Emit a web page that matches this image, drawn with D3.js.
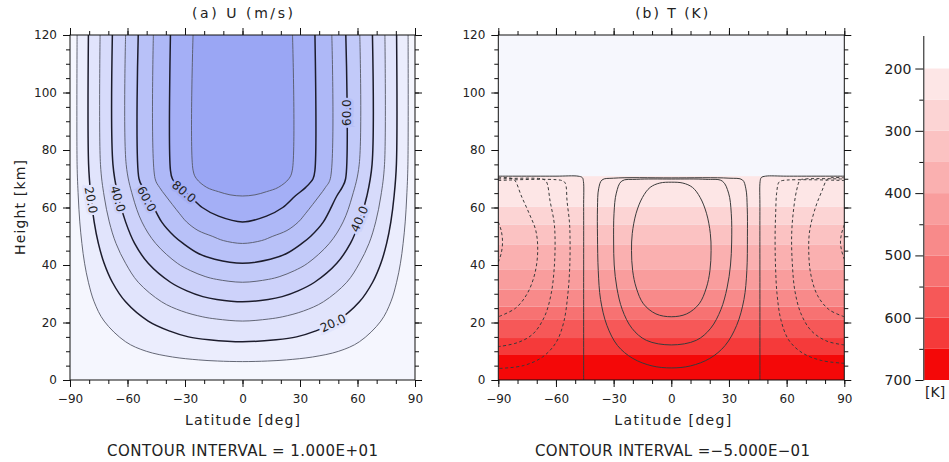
<!DOCTYPE html>
<html>
<head>
<meta charset="utf-8">
<script src="https://cdn.jsdelivr.net/npm/d3@7"></script>
<style>
  body { margin: 0; background: #fff; }
  svg text { font-family: "DejaVu Sans", sans-serif; fill: #222; }
  .axis line { stroke: #111; }
  .axis text { font-size: 12px; }
</style>
</head>
<body>
<svg id="chart" width="949" height="462"></svg>
<script>
// axis ticks
const latTicks = [-90, -60, -30, 0, 30, 60, 90];
const heightTicks = [0, 20, 40, 60, 80, 100, 120];
const tempTicks = [200, 300, 400, 500, 600, 700];
const tempMinorTicks = [250, 350, 450, 550, 650];

// (a) zonal wind: contour levels and lines as [latitude, km]
const uLevels = [10, 20, 30, 40, 50, 60, 70, 80, 90];
const uLines = [
  [[-86.3,120],[-86.3,75],[-85.7,64],[-84.9,55],[-83.8,47.5],[-82.4,40.6],[-80.4,34],[-77.4,27.2],[-72.2,20.5],[-61,13.3],[-50.2,10],[-36.5,8],[-23,7],[-13,6.6],[0,6.4],
   [13,6.6],[23,7],[36.5,8],[50.2,10],[61,13.3],[72.2,20.5],[77.4,27.2],[80.4,34],[82.4,40.6],[83.8,47.5],[84.9,55],[85.7,64],[86.3,75],[86.4,120]],
  [[-80.4,120],[-80.3,75],[-79.1,64],[-77.4,55],[-75.2,47.5],[-72.2,40.6],[-67.9,34],[-61,27.2],[-49.2,20.5],[-37.9,17],[-28.2,15],[-17.5,14],[0,13.3],
   [17.5,14],[28.2,15],[37.9,17],[49.2,20.5],[61,27.2],[67.9,34],[72.2,40.6],[75.2,47.5],[77.4,55],[79.1,64],[80.3,75],[80.4,120]],
  [[-74.3,120],[-74.1,75],[-72.2,64],[-69.5,55],[-66,47.5],[-61,40.6],[-54.4,34],[-42.2,27.2],[-31.8,24],[-21,22],[-13.5,21.2],[0,20.5],
   [13.5,21.2],[21,22],[31.8,24],[42.2,27.2],[54.4,34],[61,40.6],[66,47.5],[69.5,55],[72.2,64],[74.1,75],[74.3,120]],
  [[-67.9,120],[-67.6,75],[-64.9,64],[-61,55],[-56.3,47.5],[-49.2,40.6],[-37.6,34],[-29,31],[-20.7,29],[-13.4,28],[0,27.2],
   [13.4,28],[20.7,29],[29,31],[37.6,34],[49.2,40.6],[56.3,47.5],[61,55],[64.9,64],[67.6,75],[67.8,120]],
  [[-61,120],[-60.7,75],[-57.3,64],[-52.5,55],[-45.3,47.5],[-34,40.6],[-27,38],[-19.5,36],[-13.5,35],[0,34],
   [13.5,35],[19.5,36],[27,38],[34,40.6],[45.3,47.5],[52.5,55],[57.3,64],[60.9,75],[61.2,120]],
  [[-54.4,120],[-54,70],[-52,67],[-49.2,64],[-42.2,55],[-35.6,50],[-31,47.5],[-23,44],[-14.5,42],[0,40.6],
   [14.5,42],[23,44],[31,47.5],[35.6,50],[42.2,55],[49.2,64],[52,67],[53.8,70],[53.9,120]],
  [[-46.5,120],[-45.6,70],[-43.3,67],[-40,64],[-33,58],[-29.2,55],[-23.2,52],[-15.8,50],[-10,48.5],[0,47.5],
   [10,48.5],[15.8,50],[23.2,52],[29.2,55],[33,58],[40,64],[43.3,67],[45.8,70],[46.6,120]],
  [[-37.6,120],[-37.6,73],[-36.6,70],[-33,67],[-27.5,64],[-21,60],[-12.5,57],[0,55],
   [12.5,57],[21,60],[27.5,64],[33,67],[36.8,70],[37.8,73],[37.8,120]],
  [[-25.8,120],[-25.8,73],[-24,70],[-18.7,67],[-12.5,65.5],[-6.5,64.4],[0,64],
   [6.5,64.4],[12.5,65.5],[18.7,67],[24.2,70],[26,73],[26.1,120]]
];
const uColors = ["#f5f6fe", "#ebedfd", "#e1e4fc", "#d7dbfb", "#cdd2fa",
                 "#c2caf9", "#b8c1f8", "#aeb8f7", "#a4aff6", "#9aa6f4"];
const uLabelValue = [20, 40, 60, 80, 60, 40, 20];
const uLabelLat = [-79, -65, -50, -30.5, 54.6, 61, 47.2];
const uLabelKm = [62.6, 63, 63, 65.5, 93, 56, 19.8];
const uLabelAngle = [80, 74, 62, 40, -90, -67, -25];

// (b) temperature profile (band edges) and colour table
const tempKm = [0, 8.7, 14.6, 20.9, 25.5, 31.5, 38.3, 47, 54, 60.3, 70.9];
const tempK = [700, 650, 600, 550, 500, 450, 400, 350, 300, 250, 200];
const tempColors = ["#fde6e6", "#fcd4d4", "#fbc2c2", "#fab0b0", "#f99d9d",
                    "#f88a8a", "#f77272", "#f65858", "#f53a3a", "#f40808"];

// (b) temperature deviation contours, open lines and closed loops
const tOpenLevels = [0, 0, -0.5, -1.0, -1.5, -2.0, -0.5, -1.0, -1.5, -2.0];
const tOpenLines = [
  [[-90,70.9],[-60,70.9],[-48.5,70.9],[-46.3,70.4],[-45.7,69],[-45.6,60],[-45.6,30],[-45.6,0]],
  [[46.1,0],[46.1,30],[46.1,60],[46.2,69],[46.8,70.4],[49,70.9],[60,70.9],[90,70.9]],
  [[-90,69.4],[-57,69.4],[-55.2,68.5],[-54.2,62],[-53,55],[-52.7,50],[-52.8,40],[-53.8,30],[-56,20],[-60,13],[-67,8],[-77,5],[-90,4]],
  [[-90,69.9],[-67,69.9],[-65,69],[-63,62],[-61,55],[-60.5,50],[-60.8,40],[-62.5,30],[-66,22],[-72,16],[-80,13],[-90,11.6]],
  [[-90,70.3],[-84,70.3],[-81.5,69.5],[-78,64],[-74,58],[-70.5,52],[-69.5,45],[-71,37],[-75,30],[-81,25],[-90,22]],
  [[-90,55],[-88.5,52],[-87.8,48],[-88.5,44],[-90,41]],
  [[90,5.8],[78,6.8],[68,9.5],[61,14],[57,21],[55,30],[54.2,40],[54,50],[54.3,58],[54.8,65],[56,68.8],[58,69.4],[90,69.4]],
  [[90,12.2],[81,13.5],[73,17],[67.5,23],[64.3,31],[63,40],[62.6,50],[63.4,58],[65.2,66],[67,69.5],[69,69.9],[90,69.9]],
  [[90,22],[82,24.5],[76,29.5],[72.5,37],[71.5,45],[72,52],[75,60],[78.5,66],[80.8,69.5],[83,70.3],[90,70.3]],
  [[90,54],[88.6,51],[88,48],[88.6,45],[90,42]]
];
const tLoopLevels = [0.5, 1.0, 1.5];
const tLoops = [
  [[-36,69.6],[-37.8,66.5],[-38.4,60],[-38.4,50],[-38,38],[-36.8,28],[-33.5,19],[-28,12],[-20,7.5],[-10,4.9],[0,4.2],
   [10,4.9],[20,7.5],[28,12],[34,19],[37.8,28],[39.3,38],[39.6,50],[39.5,60],[38.8,66.5],[37,69.6],[30,70.2],[0,70.3],[-30,70.2]],
  [[-25.8,69.2],[-28.6,65],[-29.8,58],[-30,48],[-29.7,40],[-28.3,32],[-25.5,24.5],[-20.5,18],[-13,13.8],[0,12.2],
   [13,13.8],[20.5,18],[25.8,24.5],[29,32],[30.8,40],[31.4,48],[31.2,58],[29.8,65],[26.5,69.2],[18,69.8],[0,69.9],[-18,69.8]],
  [[0,68.8],[-6,68.5],[-11,67],[-15,63.5],[-18.3,58],[-20.3,51],[-20.7,45],[-20.1,38],[-18.2,32],[-14.5,26.5],[-8,23],[0,22],
   [8,23],[14.5,26.5],[18.2,32],[20.1,38],[20.7,45],[20.3,51],[18.3,58],[15,63.5],[11,67],[6,68.5]]
];

const svg = d3.select("#chart");
const yTop = 35, yBottom = 380;
const y = d3.scaleLinear().domain([0, 120]).range([yBottom, yTop]);
const xA = d3.scaleLinear().domain([-90, 90]).range([70, 415]);
const xB = d3.scaleLinear().domain([-90, 90]).range([498.3, 844.3]);
const plotBg = "#f6f7fd";

function curveLine(x, closed) {
  return d3.line()
    .x(d => x(d[0]))
    .y(d => y(d[1]))
    .curve(closed ? d3.curveCatmullRomClosed.alpha(0.5) : d3.curveCatmullRom.alpha(0.5));
}

function addClip(id, x) {
  svg.append("clipPath").attr("id", id)
    .append("rect")
    .attr("x", x(-90)).attr("y", yTop)
    .attr("width", x(90) - x(-90)).attr("height", yBottom - yTop);
}

function drawAxes(g, x) {
  const fmt = d3.format("d");
  const sides = [
    [d3.axisBottom, x, `translate(0,${yBottom})`, latTicks, x.ticks(18), true, 7],
    [d3.axisTop, x, `translate(0,${yTop})`, latTicks, x.ticks(18), false, 0],
    [d3.axisLeft, y, `translate(${x(-90)},0)`, heightTicks, y.ticks(24), true, 6],
    [d3.axisRight, y, `translate(${x(90)},0)`, heightTicks, y.ticks(24), false, 0]
  ];
  sides.forEach(([make, scale, tr, major, minor, labelled, pad]) => {
    g.append("g").attr("class", "axis").attr("transform", tr)
      .call(make(scale).tickValues(minor).tickSize(4).tickFormat(""))
      .call(a => a.select(".domain").remove());
    g.append("g").attr("class", "axis").attr("transform", tr)
      .call(make(scale).tickValues(major).tickSize(7).tickPadding(pad)
        .tickFormat(labelled ? fmt : ""))
      .call(a => a.select(".domain").remove())
      .attr("font-family", null).attr("font-size", null);
  });
  g.append("rect")
    .attr("x", x(-90)).attr("y", yTop)
    .attr("width", x(90) - x(-90)).attr("height", yBottom - yTop)
    .attr("fill", "none").attr("stroke", "#111").attr("stroke-width", 1);
}

function addText(str, x, yPos, size, width, rotate) {
  const t = svg.append("text")
    .attr("x", x).attr("y", yPos)
    .attr("text-anchor", "middle")
    .style("font-size", size + "px")
    .text(str);
  if (width) t.attr("textLength", width).attr("lengthAdjust", "spacing");
  if (rotate) t.attr("transform", `rotate(${rotate},${x},${yPos})`);
  return t;
}

// ---------- panel (a): zonal wind ----------
addClip("clipA", xA);
const gA = svg.append("g");
const fillA = gA.append("g").attr("clip-path", "url(#clipA)");
fillA.append("rect")
  .attr("x", xA(-90)).attr("y", yTop)
  .attr("width", xA(90) - xA(-90)).attr("height", yBottom - yTop)
  .attr("fill", uColors[0]);
const lineA = curveLine(xA, false);
uLines.forEach((pts, i) => {
  fillA.append("path")
    .attr("d", lineA(pts) + "Z")
    .attr("fill", uColors[i + 1]);
});
uLines.forEach((pts, i) => {
  const major = uLevels[i] % 20 === 0;
  fillA.append("path")
    .attr("d", lineA(pts))
    .attr("fill", "none")
    .attr("stroke", major ? "#1c1c2c" : "#555866")
    .attr("stroke-width", major ? 1.5 : 0.9);
});
uLabelValue.forEach((v, i) => {
  const px = xA(uLabelLat[i]), py = y(uLabelKm[i]);
  fillA.append("text")
    .attr("transform", `translate(${px},${py}) rotate(${uLabelAngle[i]})`)
    .attr("text-anchor", "middle")
    .attr("dy", "0.35em")
    .style("font-size", "12px")
    .attr("stroke", uColors[v / 10])
    .attr("stroke-width", 5)
    .attr("paint-order", "stroke")
    .text(d3.format(".1f")(v));
});
drawAxes(gA, xA);

// ---------- panel (b): temperature ----------
addClip("clipB", xB);
const gB = svg.append("g");
const fillB = gB.append("g").attr("clip-path", "url(#clipB)");
fillB.append("rect")
  .attr("x", xB(-90)).attr("y", yTop)
  .attr("width", xB(90) - xB(-90)).attr("height", yBottom - yTop)
  .attr("fill", plotBg);
const tempColor = d3.scaleQuantize().domain([200, 700]).range(tempColors);
d3.range(tempKm.length - 1).forEach(i => {
  fillB.append("rect")
    .attr("x", xB(-90))
    .attr("y", y(tempKm[i + 1]))
    .attr("width", xB(90) - xB(-90))
    .attr("height", y(tempKm[i]) - y(tempKm[i + 1]))
    .attr("fill", tempColor((tempK[i] + tempK[i + 1]) / 2));
});
const lineB = curveLine(xB, false);
const loopB = curveLine(xB, true);
const contourStyle = (sel, level) => sel
  .attr("fill", "none")
  .attr("stroke", "#3a3a3a")
  .attr("stroke-width", 1)
  .attr("stroke-dasharray", level < 0 ? "3,2.5" : null);
tOpenLines.forEach((pts, i) => {
  fillB.append("path").attr("d", lineB(pts)).call(contourStyle, tOpenLevels[i]);
});
tLoops.forEach((pts, i) => {
  fillB.append("path").attr("d", loopB(pts)).call(contourStyle, tLoopLevels[i]);
});
drawAxes(gB, xB);

// ---------- colour bar ----------
const cbX = 923.3;
const cbY = d3.scaleLinear().domain([147, 700]).range([35.5, 380]);
d3.range(tempK.length - 1).forEach(i => {
  svg.append("rect")
    .attr("x", cbX + 1)
    .attr("y", cbY(tempK[i + 1]))
    .attr("width", 949 - cbX)
    .attr("height", cbY(tempK[i]) - cbY(tempK[i + 1]))
    .attr("fill", tempColor((tempK[i] + tempK[i + 1]) / 2));
});
svg.append("g").attr("class", "axis").attr("transform", `translate(${cbX},0)`)
  .call(d3.axisLeft(cbY).tickValues(tempMinorTicks).tickSize(4).tickFormat(""))
  .call(a => a.select(".domain").remove());
svg.append("g").attr("class", "axis cbar").attr("transform", `translate(${cbX},0)`)
  .call(d3.axisLeft(cbY).tickValues(tempTicks).tickSize(8).tickSizeOuter(0).tickPadding(4))
  .attr("font-family", null).attr("font-size", null)
  .call(a => a.select(".domain").attr("stroke", "#111"))
  .call(a => a.selectAll("text").style("font-size", "14px"));
svg.append("text").attr("x", 925).attr("y", 397).style("font-size", "14px").text("[K]");

// ---------- titles ----------
addText("(a) U (m/s)", 242.5, 18, 14, 101);
addText("(b) T (K)", 671.7, 18, 14, 73);
addText("Latitude [deg]", 242.5, 425, 14, 115);
addText("Latitude [deg]", 672.8, 425, 14, 117);
addText("Height [km]", 25, 207.5, 14, 95, -90);
addText("CONTOUR INTERVAL = 1.000E+01", 242.5, 456, 15, 271);
addText("CONTOUR INTERVAL =\u22125.000E\u221201", 672.5, 456, 15, 275);
</script>
</body>
</html>
